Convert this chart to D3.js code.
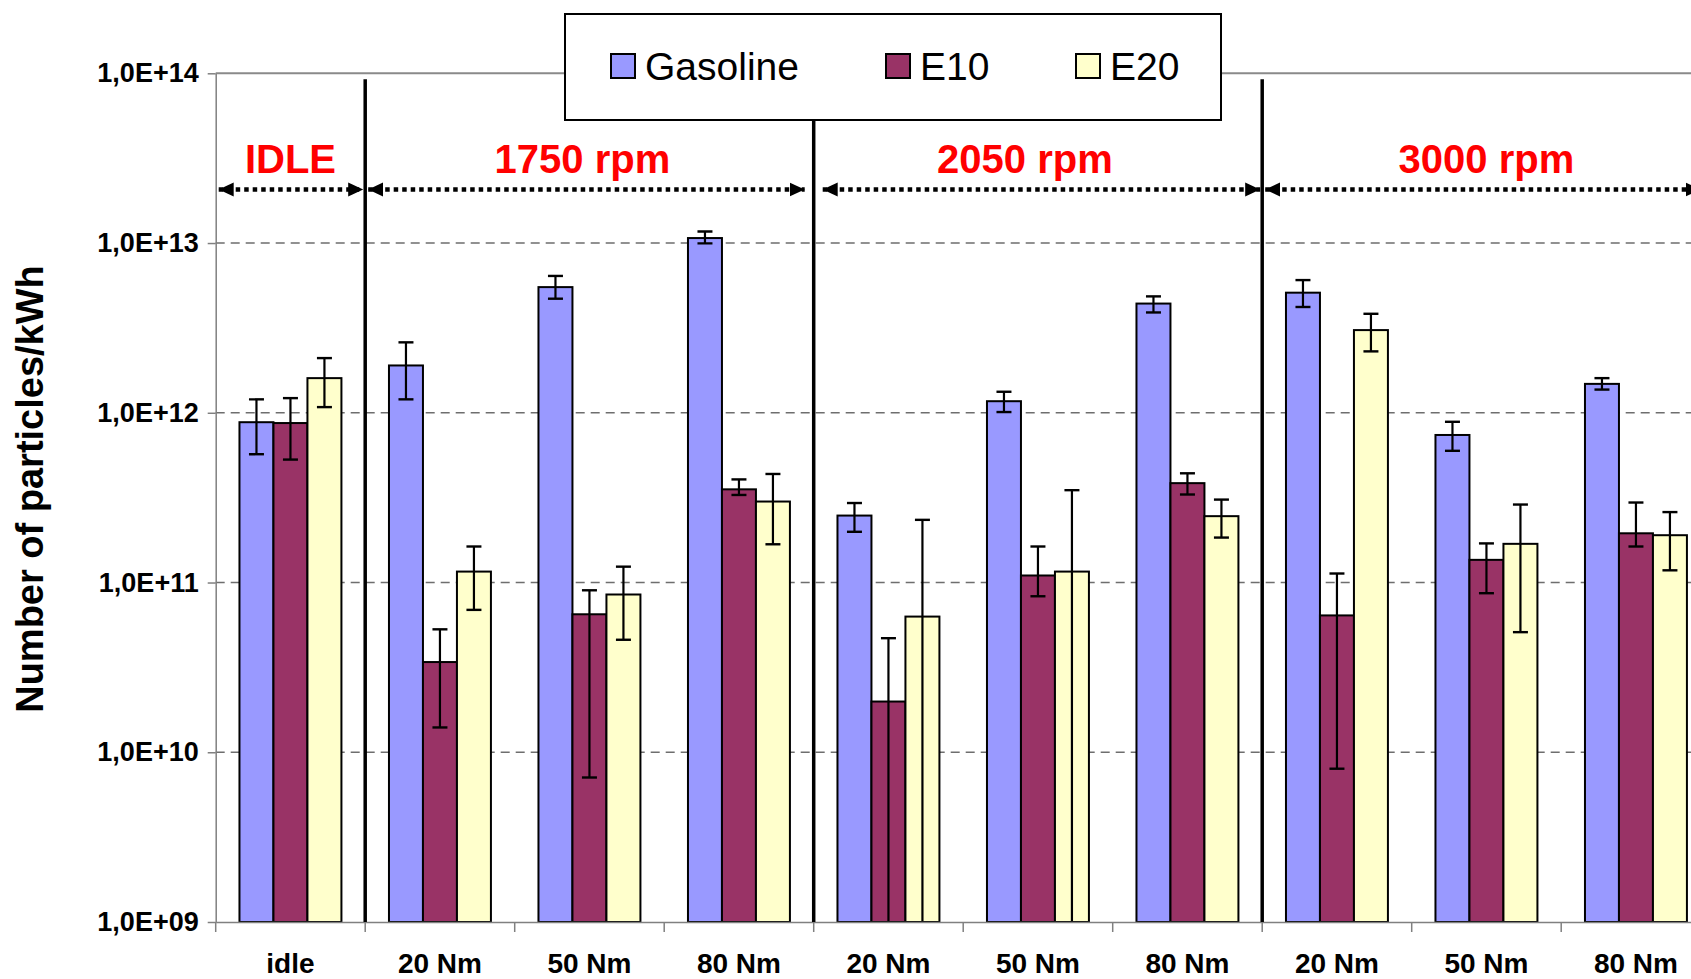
<!DOCTYPE html>
<html>
<head>
<meta charset="utf-8">
<script src="https://cdn.jsdelivr.net/npm/d3@7"></script>
<style>
  body { margin: 0; background: #fff; }
  svg { display: block; font-family: "Liberation Sans", Arial, sans-serif; }
</style>
</head>
<body>
<svg id="chart" width="1691" height="979"></svg>
<script>
var categories = ["idle", "20 Nm", "50 Nm", "80 Nm", "20 Nm", "50 Nm", "80 Nm", "20 Nm", "50 Nm", "80 Nm"]
var seriesNames = ["Gasoline", "E10", "E20"]
var seriesColors = ["#9999ff", "#993366", "#ffffcc"]

// particle numbers per kWh, with error bar ends
var gasoline     = [8.8e11, 1.9e12, 5.5e12, 1.07e13, 2.48e11, 1.17e12, 4.4e12, 5.1e12, 7.4e11, 1.48e12]
var gasolineLow  = [5.7e11, 1.2e12, 4.7e12, 9.95e12, 1.99e11, 1.01e12, 3.9e12, 4.2e12, 5.97e11, 1.37e12]
var gasolineHigh = [1.2e12, 2.6e12, 6.4e12, 1.17e13, 2.94e11, 1.33e12, 4.85e12, 6.05e12, 8.85e11, 1.6e12]

var e10     = [8.7e11, 3.4e10, 6.5e10, 3.54e11, 1.99e10, 1.1e11, 3.85e11, 6.4e10, 1.36e11, 1.95e11]
var e10Low  = [5.3e11, 1.4e10, 7.1e9, 3.28e11, 5e8, 8.3e10, 3.3e11, 8.0e9, 8.65e10, 1.63e11]
var e10High = [1.22e12, 5.3e10, 9.0e10, 4.05e11, 4.7e10, 1.63e11, 4.4e11, 1.13e11, 1.7e11, 2.96e11]

var e20     = [1.6e12, 1.16e11, 8.5e10, 3.0e11, 6.3e10, 1.16e11, 2.46e11, 3.07e12, 1.69e11, 1.9e11]
var e20Low  = [1.08e12, 6.9e10, 4.6e10, 1.68e11, 5e8, 5e8, 1.84e11, 2.3e12, 5.1e10, 1.18e11]
var e20High = [2.1e12, 1.63e11, 1.24e11, 4.36e11, 2.34e11, 3.5e11, 3.08e11, 3.83e12, 2.88e11, 2.6e11]

var yTicks = [1e9, 1e10, 1e11, 1e12, 1e13, 1e14]
var speedLabels = ["IDLE", "1750 rpm", "2050 rpm", "3000 rpm"]
var speedStart = [0, 1, 4, 7]
var speedEnd = [1, 4, 7, 10]

var svg = d3.select("#chart")
var W = +svg.attr("width")

var plotLeft = 215.7, plotTop = 73.3, plotBottom = 922, step = 149.5

var x = d3.scaleBand()
  .domain(d3.range(categories.length))
  .range([plotLeft, plotLeft + step * categories.length])
var xs = d3.scaleBand()
  .domain(seriesNames)
  .range([x.bandwidth() * 0.159, x.bandwidth() * 0.841])
var y = d3.scaleLog().domain([1e9, 1e14]).range([plotBottom, plotTop])
var color = d3.scaleOrdinal().domain(seriesNames).range(seriesColors)

var values = { "Gasoline": gasoline, "E10": e10, "E20": e20 }
var lows = { "Gasoline": gasolineLow, "E10": e10Low, "E20": e20Low }
var highs = { "Gasoline": gasolineHigh, "E10": e10High, "E20": e20High }

var rows = []
categories.forEach(function(c, i) {
  seriesNames.forEach(function(s) {
    rows.push({ cat: i, series: s, v: values[s][i], lo: lows[s][i], hi: highs[s][i] })
  })
})

svg.append("rect").attr("width", W).attr("height", 979).attr("fill", "#fff")

svg.append("defs").append("clipPath").attr("id", "plotclip")
  .append("rect")
  .attr("x", plotLeft).attr("y", plotTop - 10)
  .attr("width", W - plotLeft).attr("height", plotBottom - plotTop + 10)

// gridlines
svg.append("g").selectAll("line")
  .data(yTicks.slice(1))
  .join("line")
  .attr("x1", plotLeft).attr("x2", W)
  .attr("y1", function(d) { return y(d) }).attr("y2", function(d) { return y(d) })
  .attr("stroke", function(d) { return d == 1e14 ? "#8a8a8a" : "#6e6e6e" })
  .attr("stroke-width", function(d) { return d == 1e14 ? 2 : 1.5 })
  .attr("stroke-dasharray", function(d) { return d == 1e14 ? null : "9,6" })

// bars
var plot = svg.append("g").attr("clip-path", "url(#plotclip)")
plot.selectAll("rect.bar")
  .data(rows)
  .join("rect")
  .attr("class", "bar")
  .attr("x", function(d) { return x(d.cat) + xs(d.series) })
  .attr("width", xs.bandwidth())
  .attr("y", function(d) { return y(d.v) })
  .attr("height", function(d) { return plotBottom - y(d.v) })
  .attr("fill", function(d) { return color(d.series) })
  .attr("stroke", "#000")
  .attr("stroke-width", 2)

// error bars
var capW = 7.5
var err = plot.selectAll("g.err").data(rows).join("g").attr("class", "err")
  .attr("transform", function(d) { return "translate(" + (x(d.cat) + xs(d.series) + xs.bandwidth() / 2) + ",0)" })
err.append("line")
  .attr("y1", function(d) { return y(d.hi) })
  .attr("y2", function(d) { return d.lo < 1e9 ? plotBottom + 5 : y(d.lo) })
  .attr("stroke", "#000").attr("stroke-width", 2.2)
err.append("line")
  .attr("x1", -capW).attr("x2", capW)
  .attr("y1", function(d) { return y(d.hi) }).attr("y2", function(d) { return y(d.hi) })
  .attr("stroke", "#000").attr("stroke-width", 2.4)
err.filter(function(d) { return d.lo >= 1e9 }).append("line")
  .attr("x1", -capW).attr("x2", capW)
  .attr("y1", function(d) { return y(d.lo) }).attr("y2", function(d) { return y(d.lo) })
  .attr("stroke", "#000").attr("stroke-width", 2.4)

// y axis
var yAxis = svg.append("g")
  .attr("transform", "translate(" + plotLeft + ",0)")
  .call(d3.axisLeft(y).tickValues(yTicks).tickSize(8).tickSizeOuter(0).tickPadding(9)
    .tickFormat(function(d) { return "1,0E+" + d3.format("02d")(Math.round(Math.log10(d))) }))
yAxis.select(".domain").attr("stroke", "#808080").attr("stroke-width", 1.5)
yAxis.selectAll(".tick line").attr("stroke", "#808080").attr("stroke-width", 1.5)
yAxis.selectAll(".tick text")
  .attr("font-family", "'Liberation Sans', Arial, sans-serif")
  .attr("font-size", 27).attr("font-weight", "bold").attr("fill", "#000")

// x axis
var xAxis = svg.append("g")
  .attr("transform", "translate(0," + plotBottom + ")")
  .call(d3.axisBottom(x).tickSize(0).tickPadding(31)
    .tickFormat(function(i) { return categories[i] }))
xAxis.select(".domain").attr("stroke", "#808080").attr("stroke-width", 1.5)
xAxis.selectAll(".tick text")
  .attr("font-family", "'Liberation Sans', Arial, sans-serif")
  .attr("font-size", 28).attr("font-weight", "bold").attr("fill", "#000")
xAxis.selectAll("line.bound")
  .data(d3.range(categories.length + 1))
  .join("line")
  .attr("class", "bound")
  .attr("x1", function(i) { return plotLeft + i * x.step() })
  .attr("x2", function(i) { return plotLeft + i * x.step() })
  .attr("y1", 0).attr("y2", 10)
  .attr("stroke", "#808080").attr("stroke-width", 1.5)

// speed separators
svg.append("g").selectAll("line")
  .data(speedStart.slice(1))
  .join("line")
  .attr("x1", function(i) { return x(i) }).attr("x2", function(i) { return x(i) })
  .attr("y1", plotTop + 6).attr("y2", plotBottom)
  .attr("stroke", "#000").attr("stroke-width", 3.5)

// arrows
var defs = svg.select("defs")
defs.append("marker")
  .attr("id", "arrow")
  .attr("viewBox", "0 -8 16 16")
  .attr("refX", 15).attr("refY", 0)
  .attr("markerUnits", "userSpaceOnUse")
  .attr("markerWidth", 16).attr("markerHeight", 16)
  .attr("orient", "auto-start-reverse")
  .append("path").attr("d", "M0,-7L15,0L0,7Z").attr("fill", "#000")

var arrowY = 189.5
var insetL = [3, 3, 9, 3]
var insetR = [2, 9, 2, 10]
svg.append("g").selectAll("line")
  .data(speedLabels)
  .join("line")
  .attr("x1", function(d, k) { return x(speedStart[k]) + insetL[k] })
  .attr("x2", function(d, k) { return plotLeft + speedEnd[k] * x.step() - insetR[k] })
  .attr("y1", arrowY).attr("y2", arrowY)
  .attr("stroke", "#000").attr("stroke-width", 4.5)
  .attr("stroke-dasharray", "4.5,4")
  .attr("marker-start", "url(#arrow)")
  .attr("marker-end", "url(#arrow)")

var labelShift = [0, -7, -13, 0]
svg.append("g").selectAll("text")
  .data(speedLabels)
  .join("text")
  .attr("x", function(d, k) { return (x(speedStart[k]) + plotLeft + speedEnd[k] * x.step()) / 2 + labelShift[k] })
  .attr("y", 172.5)
  .attr("text-anchor", "middle")
  .attr("font-size", 40).attr("font-weight", "bold").attr("fill", "#ff0000")
  .text(function(d) { return d })

// y title
svg.append("text")
  .attr("transform", "translate(43,489) rotate(-90)")
  .attr("text-anchor", "middle")
  .attr("font-size", 38).attr("font-weight", "bold")
  .text("Number of particles/kWh")

// legend
var lg = svg.append("g").attr("transform", "translate(565,14)")
lg.append("rect").attr("width", 656).attr("height", 106)
  .attr("fill", "#fff").attr("stroke", "#000").attr("stroke-width", 2)
var legendX = [46, 321, 511]
var item = lg.selectAll("g.item").data(seriesNames).join("g").attr("class", "item")
  .attr("transform", function(d, k) { return "translate(" + legendX[k] + ",40)" })
item.append("rect").attr("width", 24).attr("height", 24)
  .attr("fill", function(d) { return color(d) }).attr("stroke", "#000").attr("stroke-width", 2)
item.append("text").attr("x", 34).attr("y", 26)
  .attr("font-size", 39).text(function(d) { return d })
</script>
</body>
</html>
